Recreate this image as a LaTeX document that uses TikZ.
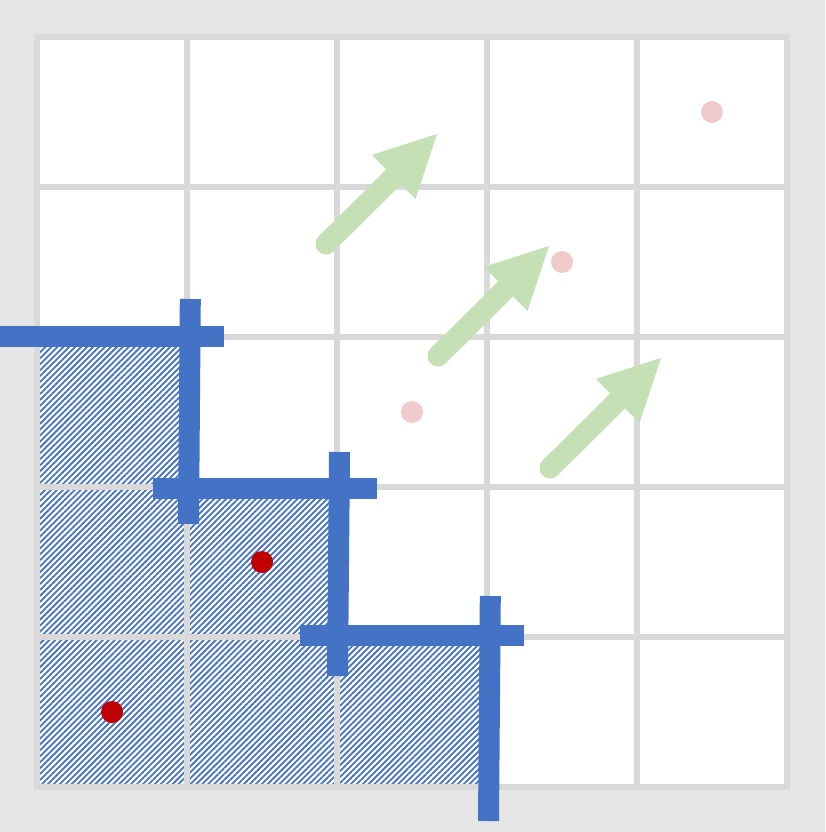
\documentclass[tikz,border=0pt]{standalone}
\usetikzlibrary{calc,patterns.meta}
\definecolor{bgcol}{HTML}{E5E5E5}
\definecolor{gridcol}{HTML}{D9D9D9}
\definecolor{barblue}{HTML}{4472C4}
\definecolor{arrgreen}{HTML}{C5E0B4}
\definecolor{dotred}{HTML}{C00000}
\definecolor{dotpink}{HTML}{F0CBCB}
\tikzset{
  gridline/.style={draw=gridcol, line width=6pt},
  barline/.style={draw=barblue, line width=21pt, line cap=butt},
  hatchfill/.style={pattern={Lines[angle=45,distance=4.2pt,line width=1.8pt]}, pattern color=barblue},
  reddot/.style={circle, fill=dotred, minimum size=22pt, inner sep=0pt},
  pinkdot/.style={circle, fill=dotpink, minimum size=22pt, inner sep=0pt},
  shaft/.style={draw=arrgreen, line width=21pt, line cap=round},
  headfill/.style={fill=arrgreen},
}
\newcommand{\greenarrow}[3]{%
  \coordinate (#1s) at #2;
  \coordinate (#1t) at #3;
  \coordinate (#1b) at ($(#1t)!61pt!(#1s)$);
  \coordinate (#1l) at ($(#1b)!31pt!90:(#1t)$);
  \coordinate (#1r) at ($(#1b)!31pt!-90:(#1t)$);
  \draw[shaft] (#1s) -- (#1b);
  \fill[headfill] (#1t) -- (#1l) -- (#1r) -- cycle;
}
\begin{document}
\begin{tikzpicture}[x=1pt,y=-1pt]
\useasboundingbox (0,0) rectangle (825,832);
\fill[bgcol] (0,0) rectangle (825,832);
\fill[white] (37,37) rectangle (787,787);
% hatched staircase
\path[hatchfill] (37,337) -- (188,337) -- (188,488) -- (338,488) -- (338,636) -- (488,636) -- (488,787) -- (37,787) -- cycle;
% grid
\foreach \v in {37,187,337,487,637,787} {
  \draw[gridline] (\v,34) -- (\v,790);
  \draw[gridline] (34,\v) -- (790,\v);
}
% green arrows
\greenarrow{ga}{(326,244)}{(437,134)}
\greenarrow{gb}{(438,356)}{(549,246)}
\greenarrow{gc}{(550,468)}{(661,358)}
% dots
\node[pinkdot] (p1) at (412,412) {};
\node[pinkdot] (p2) at (562,262) {};
\node[pinkdot] (p3) at (712,112) {};
\node[reddot] (r1) at (262,562) {};
\node[reddot] (r2) at (112,712) {};
% blue bars
\draw[barline] (0,336.5) -- (224,336.5);
\draw[barline] (190.3,299) -- (188.5,524);
\draw[barline] (153,488.5) -- (377,488.5);
\draw[barline] (339.5,452) -- (337.5,676);
\draw[barline] (300,635.5) -- (524,635.5);
\draw[barline] (490.3,596) -- (488.5,821);
\end{tikzpicture}
\end{document}
